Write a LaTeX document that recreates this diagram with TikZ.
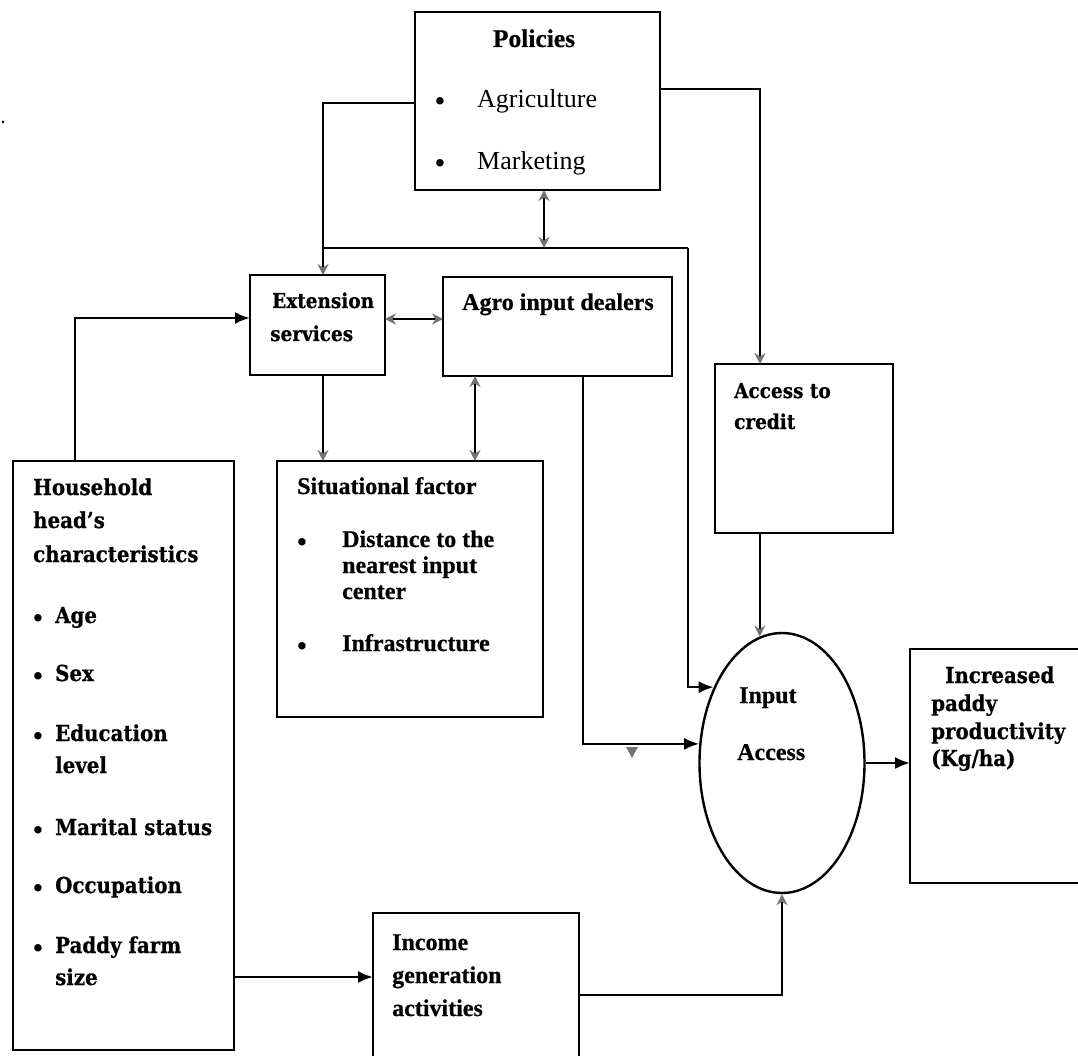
\documentclass[tikz,border=0pt]{standalone}
\usepackage{fontspec}
\setmainfont{Liberation Serif}[BoldFeatures={FakeBold=0.6}]
\newfontfamily\cent{DejaVu Serif}[FakeStretch=0.9, BoldFeatures={FakeBold=0.6}]
\usetikzlibrary{arrows.meta,shapes.geometric,calc}
\tikzset{
  box/.style={draw, line width=2.4pt, rectangle, inner sep=0pt, outer sep=0pt, anchor=north west},
  tt/.style={anchor=base west, inner sep=0pt, font=\fontsize{24}{28}\selectfont\bfseries},
  tr/.style={anchor=base west, inner sep=0pt, font=\fontsize{26}{30}\selectfont},
  cs/.style={anchor=base west, inner sep=0pt, font=\cent\fontsize{22}{26}\selectfont\bfseries},
  csm/.style={anchor=base west, inner sep=0pt, font=\cent\fontsize{20.5}{26}\selectfont\bfseries},
  bul/.style={anchor=base, inner sep=0pt, font=\fontsize{31}{31}\selectfont},
  conn/.style={line width=2.4pt},
  barr/.style={conn, -{Latex[length=15pt,width=12pt]}},
  sarr/.style={conn, -{Stealth[length=11pt,width=11pt,color=black!55]}},
  dsarr/.style={conn, {Stealth[length=11pt,width=11pt,color=black!55]}-{Stealth[length=11pt,width=11pt,color=black!55]}},
}
\begin{document}
\begin{tikzpicture}[x=1pt,y=-1pt]
\fill[white] (0,0) rectangle (1078,1056);
\useasboundingbox (0,0) rectangle (1078,1056);

% boxes
\node[box, minimum width=245pt, minimum height=178pt] (pol) at (415,12) {};
\node[box, minimum width=135pt, minimum height=100pt] (ext) at (250,275) {};
\node[box, minimum width=229pt, minimum height=99pt] (agro) at (443,277) {};
\node[box, minimum width=178pt, minimum height=169pt] (cred) at (715,364) {};
\node[box, minimum width=221pt, minimum height=589pt] (hh) at (13,461) {};
\node[box, minimum width=266pt, minimum height=256pt] (sit) at (277,461) {};
\node[box, minimum width=206pt, minimum height=160pt] (inc) at (373,913) {};
\node[box, minimum width=180pt, minimum height=234pt] (incr) at (910,649) {};
\node[draw, line width=2.4pt, ellipse, inner sep=0pt, minimum width=165pt, minimum height=260pt] (ell) at (782,763) {};

% helper coordinates
\coordinate (xL) at (323,0);
\coordinate (xP) at (544,0);
\coordinate (xR) at (688,0);
\coordinate (xA) at (475,0);
\coordinate (xAg) at (583,0);
\coordinate (xC) at (760,0);
\coordinate (xH) at (75,0);
\coordinate (yJ) at (0,248);
\coordinate (yEA) at (0,319);
\coordinate (yHE) at (0,318);
\coordinate (yPR) at (0,89);
\coordinate (yPL) at (0,103);
\coordinate (yHI) at (0,977);
\coordinate (yIE) at (0,995);
\coordinate (jL) at (xL |- yJ);
\coordinate (jR) at (xR |- yJ);

% connectors
\draw[sarr] (pol.west |- yPL) -| (ext.north -| xL);
\draw[conn] (jL) -- (jR);
\draw[dsarr] (pol.south -| xP) -- (xP |- yJ);
\draw[barr] (jR) |- (ell.132.9);
\draw[barr] (agro.south -| xAg) |- (ell.167.5);
\draw[sarr] (pol.east |- yPR) -| (cred.north -| xC);
\draw[sarr] (cred.south -| ell.100) -- (ell.100);
\draw[sarr] (inc.east |- yIE) -| (ell.south);
\draw[barr] (hh.east |- yHI) -- (inc.west |- yHI);
\draw[barr] (hh.north -| xH) |- (ext.west |- yHE);
\draw[dsarr] (ext.east |- yEA) -- (agro.west |- yEA);
\draw[dsarr] (agro.south -| xA) -- (sit.north -| xA);
\draw[sarr] (ext.south -| xL) -- (sit.north -| xL);
\draw[barr] (ell.east) -- (incr.west |- ell.east);

% stray marks
\fill[black!55] (626,747) -- (638,747) -- (632,758) -- cycle;
\fill[black] (3,122) circle (1.5);

% Policies
\node[tt, anchor=base, font=\fontsize{25.5}{30}\selectfont\bfseries] (tPol) at (534,47) {Policies};
\node[bul] (bPol1) at (440,112) {•};
\node[tr] (tAgr) at (477,108) {Agriculture};
\node[bul] (bPol2) at (440,174) {•};
\node[tr] (tMkt) at (477,170) {Marketing};

% Extension
\node[csm] (tExt1) at (272,308) {Extension};
\node[csm] (tExt2) at (270,341) {services};

% Agro
\node[tt] (tAgro) at (462,310) {Agro input dealers};

% Household
\node[cs] (tH1) at (33,495) {Household};
\node[cs] (tH2) at (33,528) {head’s};
\node[cs] (tH3) at (33,562) {characteristics};
\node[bul] (bH1) at (38,628) {•};
\node[cs] (tAge) at (55,623) {Age};
\node[bul] (bH2) at (38,686) {•};
\node[cs] (tSex) at (55,681) {Sex};
\node[bul] (bH3) at (38,746) {•};
\node[cs] (tEdu1) at (55,741) {Education};
\node[cs] (tEdu2) at (55,773) {level};
\node[bul] (bH4) at (38,840) {•};
\node[cs] (tMar) at (55,835) {Marital status};
\node[bul] (bH5) at (38,898) {•};
\node[cs] (tOcc) at (55,893) {Occupation};
\node[bul] (bH6) at (38,958) {•};
\node[cs] (tPad1) at (55,953) {Paddy farm};
\node[cs] (tPad2) at (55,985) {size};

% Situational
\node[tt] (tSit) at (297,494) {Situational factor};
\node[bul] (bS1) at (302,552) {•};
\node[tt] (tDis1) at (342,547) {Distance to the};
\node[tt] (tDis2) at (342,573) {nearest input};
\node[tt] (tDis3) at (342,599) {center};
\node[bul] (bS2) at (302,656) {•};
\node[tt] (tInf) at (342,651) {Infrastructure};

% Credit
\node[csm] (tCr1) at (734,398) {Access to};
\node[csm] (tCr2) at (734,429) {credit};

% Input access
\node[tt] (tIn1) at (739,703) {Input};
\node[tt] (tIn2) at (737,760) {Access};

% Increased
\node[cs] (tIc1) at (945,683) {Increased};
\node[cs] (tIc2) at (931,711) {paddy};
\node[cs] (tIc3) at (931,739) {productivity};
\node[cs] (tIc4) at (931,766) {(Kg/ha)};

% Income
\node[tt] (tInc1) at (392,950) {Income};
\node[tt] (tInc2) at (392,983) {generation};
\node[tt] (tInc3) at (392,1016) {activities};
\end{tikzpicture}
\end{document}
